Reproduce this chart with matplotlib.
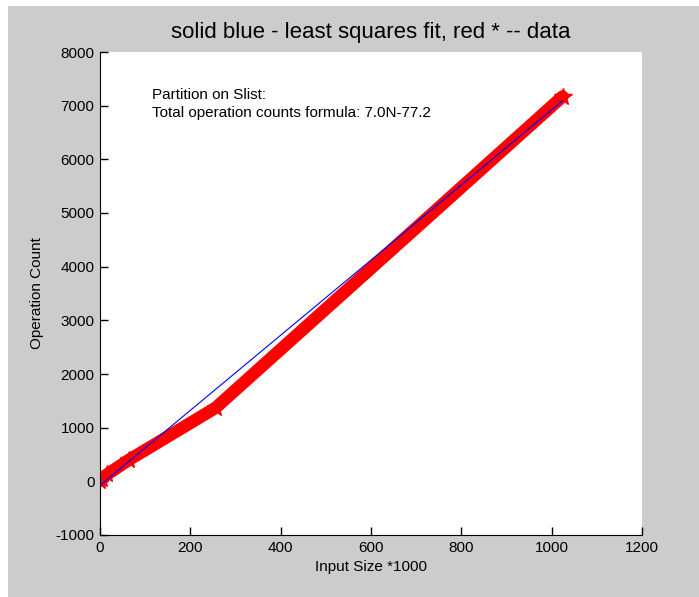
import matplotlib
matplotlib.use('Agg')
import matplotlib.pyplot as plt
from matplotlib.patches import Rectangle

# data
input_size = [1, 4, 16, 64, 256, 1024]
op_count = [10, 40, 130, 400, 1370, 7170]
fit_x = [0, 1024]
slope = 7.0
intercept = -77.2
xticks = [0, 200, 400, 600, 800, 1000, 1200]
yticks = [-1000, 0, 1000, 2000, 3000, 4000, 5000, 6000, 7000, 8000]

plt.rcParams['font.family'] = ['Liberation Sans', 'DejaVu Sans']
plt.rcParams['axes.unicode_minus'] = False


def main():
    fig = plt.figure(figsize=(6.99, 5.97), dpi=100)
    fig.patch.set_facecolor('#cccccc')
    # white strip on the left and top like the screenshot
    fig.patches.append(Rectangle((0, 0), 8 / 699, 1, transform=fig.transFigure,
                                 facecolor='white', edgecolor='none', zorder=0))
    fig.patches.append(Rectangle((0, 1 - 6 / 597), 1, 6 / 597, transform=fig.transFigure,
                                 facecolor='white', edgecolor='none', zorder=0))

    ax = fig.add_axes([100 / 699, 62 / 597, 542 / 699, 483 / 597])
    ax.set_facecolor('white')

    ax.plot(input_size, op_count, color='red', linewidth=9, marker='*',
            markersize=13, solid_joinstyle='round', solid_capstyle='round', zorder=2)
    fit_y = [slope * v + intercept for v in fit_x]
    ax.plot(fit_x, fit_y, color='blue', linewidth=0.8, zorder=3)

    ax.set_xlim(0, 1200)
    ax.set_ylim(-1000, 8000)
    ax.set_xticks(xticks)
    ax.set_yticks(yticks)
    ax.tick_params(direction='in', length=6, labelsize=11, width=1, pad=4)
    ax.spines['top'].set_visible(False)
    ax.spines['right'].set_visible(False)

    ax.text(115, 7200, 'Partition on Slist:', fontsize=11, va='center')
    ax.text(115, 6870, 'Total operation counts formula: 7.0N-77.2', fontsize=11, va='center')

    ax.set_title('solid blue - least squares fit, red * -- data', fontsize=16, pad=10)
    ax.set_xlabel('Input Size *1000', fontsize=11, labelpad=4)
    ax.set_ylabel('Operation Count', fontsize=11, labelpad=8)

    fig.savefig('out.png', dpi=100, facecolor=fig.get_facecolor())


if __name__ == '__main__':
    main()
